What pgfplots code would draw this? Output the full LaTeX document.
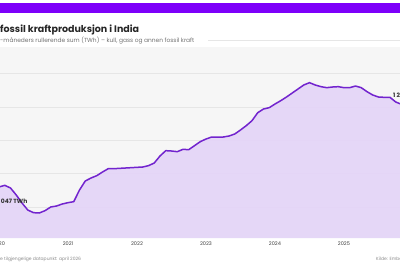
\documentclass[border=0pt]{standalone}
\usepackage{pgfplots}
\usepackage{pgfplotstable}
\pgfplotsset{compat=1.18}
\usepackage{fontspec}
\setmainfont{Poppins}
\definecolor{barviolet}{RGB}{125,0,250}
\definecolor{linepurple}{RGB}{114,36,206}
\definecolor{areafill}{RGB}{228,212,248}
\definecolor{panelgray}{RGB}{246,246,246}
\definecolor{gridgray}{RGB}{230,230,230}

% 12-month rolling fossil generation, TWh; m = months since January 2020
\pgfplotstableread{
m v
0 1047
1 1052
2 1044
3 1023
4 999
5 978
6 970
7 969
8 976
9 987
10 990
11 996
12 1000
13 1003
14 1038
15 1065
16 1074
17 1081
18 1092
19 1102
20 1102
21 1103
22 1104
23 1105
24 1106
25 1107
26 1111
27 1119
28 1140
29 1156
30 1155
31 1153
32 1160
33 1159
34 1171
35 1183
36 1191
37 1197
38 1197
39 1197
40 1200
41 1206
42 1218
43 1231
44 1246
45 1270
46 1281
47 1285
48 1296
49 1306
50 1317
51 1329
52 1341
53 1353
54 1360
55 1353
56 1348
57 1345
58 1347
59 1348
60 1345
61 1345
62 1350
63 1345
64 1333
65 1323
66 1317
67 1316
68 1316
69 1302
70 1295
}\fossil

\begin{document}
\begin{tikzpicture}[x=1pt,y=1pt]
\useasboundingbox (0,0) rectangle (400,266);
\clip (0,0) rectangle (400,266);
\fill[white] (0,0) rectangle (400,266);
\fill[barviolet] (0,253) rectangle (400,263);
\node[anchor=base west, inner sep=0, font=\bfseries\fontsize{9.5}{11}\selectfont, text=black!85] at (0,234) {fossil kraftproduksjon i India};
\node[anchor=base west, inner sep=0, font=\fontsize{5.9}{7}\selectfont, text=black!55] at (0,224) {\llap{12}-måneders rullerende sum (TWh) – kull, gass og annen fossil kraft};
\draw[gridgray, line width=0.5pt] (208,226) -- (400,226);

\begin{axis}[
  at={(-1pt,28pt)}, anchor=south west,
  scale only axis, width=402.5pt, height=191pt,
  xmin=0, xmax=70, ymin=894, ymax=1467,
  axis line style={draw=none}, tick style={draw=none},
  axis background/.style={fill=panelgray},
  xtick={0,12,24,36,48,60},
  xticklabels={2020,2021,2022,2023,2024,2025},
  xticklabel style={font=\fontsize{5}{6}\selectfont, text=black!75},
  ytick={987,1087,1187,1287,1387}, yticklabels={},
  ymajorgrids, grid style={gridgray, line width=0.5pt},
]
\addplot[draw=none, fill=areafill, fill opacity=0.9] table[x=m, y=v] {\fossil} \closedcycle;
\addplot[linepurple, line width=1.5pt, line join=round] table[x=m, y=v] {\fossil};
\end{axis}

\node[anchor=base east, inner sep=0, font=\bfseries\fontsize{6}{7}\selectfont, text=black!80] at (27.5,63) {1 047 TWh};
\node[anchor=base west, inner sep=0, font=\bfseries\fontsize{6}{7}\selectfont, text=black!80] at (393,169) {1 295 TWh};
\node[anchor=base west, inner sep=0, font=\fontsize{4.5}{5}\selectfont, text=black!45] at (0,6) {\llap{Sist}e tilgjengelige datapunkt: april 2026};
\node[anchor=base west, inner sep=0, font=\fontsize{4.5}{5}\selectfont, text=black!45] at (376,6) {Kilde: Ember};
\end{tikzpicture}
\end{document}
